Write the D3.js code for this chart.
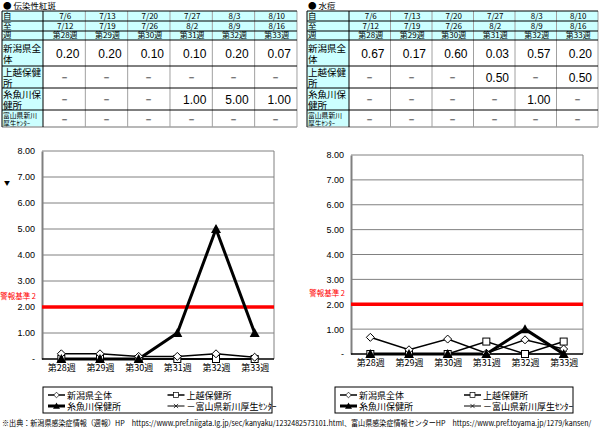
<!DOCTYPE html>
<html><head><meta charset="utf-8">
<script src="https://cdn.jsdelivr.net/npm/d3@7"></script>
<style>body{margin:0;background:#fff}svg{display:block}</style>
</head><body>
<script>
const weeks = ["第28週","第29週","第30週","第31週","第32週","第33週"];
const fromDates = ["7/6","7/13","7/20","7/27","8/3","8/10"];
const toDates = ["7/12","7/19","7/26","8/2","8/9","8/16"];
const seriesNames = ["新潟県全体","上越保健所","糸魚川保健所","富山県新川厚生ｾﾝﾀｰ"];
const rowLabels = [["新潟県全","体"],["上越保健","所"],["糸魚川保","健所"],["富山県新川","厚生ｾﾝﾀｰ"]];
const headerLabels = ["自","至","週"];
// null = "－" in table, plotted as 0
const leftTitle = "伝染性紅斑";
const leftNiigata = [0.20,0.20,0.10,0.10,0.20,0.07];
const leftJoetsu = [null,null,null,null,null,null];
const leftItoigawa = [null,null,null,1.00,5.00,1.00];
const leftToyama = [null,null,null,null,null,null];
const rightTitle = "水痘";
const rightNiigata = [0.67,0.17,0.60,0.03,0.57,0.20];
const rightJoetsu = [null,null,null,0.50,null,0.50];
const rightItoigawa = [null,null,null,null,1.00,null];
const rightToyama = [null,null,null,null,null,null];
const yTicks = [0,1,2,3,4,5,6,7,8];
const alertLevel = 2;
const alertLabel = "警報基準 2";
const footer = "※出典：新潟県感染症情報（週報）HP　https://www.pref.niigata.lg.jp/sec/kanyaku/1232482573101.html、富山県感染症情報センターHP　https://www.pref.toyama.jp/1279/kansen/";

const FONT = "'Noto Sans CJK JP','Liberation Sans',sans-serif";
const svg = d3.select("body").append("svg").attr("width",600).attr("height",430)
  .style("font-family",FONT);

function table(x0, labelW, colW, title, data) {
  const g = svg.append("g");
  g.append("text").attr("x",x0+1).attr("y",8.5).attr("font-size",8.5).text("● "+title);
  const rowsY = [11,21,31,40,66,88,110,127];
  const colX = [x0, x0+labelW];
  for (let i=1;i<=6;i++) colX.push(x0+labelW+colW*i);
  const right = colX[7];
  g.append("rect").attr("x",x0).attr("y",rowsY[0]).attr("width",right-x0).attr("height",rowsY[3]-rowsY[0]).attr("fill","#ccffff");
  g.append("rect").attr("x",x0).attr("y",rowsY[3]).attr("width",labelW).attr("height",rowsY[7]-rowsY[3]).attr("fill","#ccffff");
  const hl = g.append("text").attr("font-size",8.5);
  headerLabels.forEach((t,i)=>hl.append("tspan").attr("x",x0+1).attr("y",rowsY[i+1]-2).text(t));
  for (let j=0;j<6;j++) {
    const cx = (colX[j+1]+colX[j+2])/2+1;
    const ht = g.append("text").attr("font-size",8).attr("text-anchor","middle");
    [fromDates[j],toDates[j],weeks[j]].forEach((t,i)=>ht.append("tspan").attr("x",cx).attr("y",rowsY[i+1]-2).text(t));
  }
  data.forEach((vals,r)=>{
    const y0 = rowsY[r+3], y1 = rowsY[r+4], mid=(y0+y1)/2;
    const small = r===3;
    const fs = small?6.8:9.5;
    const lh = small?8:10.5;
    const ty = mid - lh/2 + fs*0.45;
    const lt = g.append("text").attr("font-size",fs);
    lt.append("tspan").attr("x",x0+1).attr("y",ty).text(rowLabels[r][0]);
    lt.append("tspan").attr("x",x0+1).attr("y",ty+lh).text(rowLabels[r][1]);
    vals.forEach((v,j)=>{
      if (v===null) {
        g.append("text").attr("x",(colX[j+1]+colX[j+2])/2).attr("y",mid+4).attr("font-size",11)
          .attr("text-anchor","middle").attr("font-family","'Liberation Sans',sans-serif").text("－");
      } else {
        g.append("text").attr("x",colX[j+2]-6).attr("y",mid+4.5).attr("font-size",12)
          .attr("text-anchor","end").attr("font-family","'Liberation Sans',sans-serif").text(v.toFixed(2));
      }
    });
  });
  for (let i=2;i<7;i++) g.append("line").attr("x1",colX[i]).attr("x2",colX[i]).attr("y1",rowsY[0]).attr("y2",rowsY[7]).attr("stroke","#a0a0a0").attr("stroke-width",1);
  g.append("line").attr("x1",right).attr("x2",right).attr("y1",rowsY[0]).attr("y2",rowsY[7]).attr("stroke","#a0a0a0");
  rowsY.forEach((y,i)=>{
    g.append("line").attr("x1",x0).attr("x2",right).attr("y1",y).attr("y2",y)
      .attr("stroke", i===7?"#a0a0a0":"#000").attr("stroke-width", i===7?1.5:1);
  });
  [x0, colX[1]].forEach(x=>g.append("line").attr("x1",x).attr("x2",x).attr("y1",rowsY[0]).attr("y2",rowsY[7]).attr("stroke","#000"));
}

function marker(g, type, x, y) {
  if (type==="diamond") {
    g.append("path").attr("d",`M${x},${y-4}L${x+4},${y}L${x},${y+4}L${x-4},${y}Z`).attr("fill","#fff").attr("stroke","#000").attr("stroke-width",1);
  } else if (type==="square") {
    g.append("rect").attr("x",x-3.5).attr("y",y-3.5).attr("width",7).attr("height",7).attr("fill","#fff").attr("stroke","#000").attr("stroke-width",1);
  } else if (type==="triangle") {
    g.append("path").attr("d",`M${x},${y-5}L${x+5},${y+4}L${x-5},${y+4}Z`).attr("fill","#000");
  } else if (type==="x") {
    g.append("path").attr("d",`M${x-3},${y-3}L${x+3},${y+3}M${x+3},${y-3}L${x-3},${y+3}`).attr("stroke","#000").attr("stroke-width",1);
  }
}

const seriesStyle = [
  {type:"diamond", w:1.5},
  {type:"square", w:1.5},
  {type:"triangle", w:3},
  {type:"x", w:1}
];

function chart(left, right, top, bottom, data) {
  const g = svg.append("g");
  const x = d3.scalePoint().domain(weeks).range([left,right]).padding(0.5);
  const y = d3.scaleLinear().domain([0,8]).range([bottom,top]);
  yTicks.forEach(t=>{
    if (t>0) g.append("line").attr("x1",left).attr("x2",right).attr("y1",y(t)).attr("y2",y(t)).attr("stroke","#808080").attr("stroke-width",1);
  });
  const yAxis = d3.axisLeft(y).tickValues(yTicks).tickSize(0).tickPadding(7)
    .tickFormat(d=>d===0?"-":d.toFixed(2));
  const ya = g.append("g").attr("transform",`translate(${left},0)`).call(yAxis);
  ya.select(".domain").attr("stroke","#808080").attr("stroke-width",2);
  ya.selectAll("text").attr("font-size",9).attr("font-family","'Liberation Sans',sans-serif").attr("fill","#000");
  g.append("line").attr("x1",right).attr("x2",right).attr("y1",top).attr("y2",bottom).attr("stroke","#808080");
  const xAxis = d3.axisBottom(x).tickSize(0).tickPadding(6);
  const xa = g.append("g").attr("transform",`translate(0,${bottom})`).call(xAxis);
  xa.select(".domain").attr("d",`M${left},0H${right}`).attr("stroke","#000").attr("stroke-width",1.5);
  xa.selectAll("text").attr("font-size",9).attr("font-family",FONT).attr("fill","#000");
  g.append("line").attr("x1",left).attr("x2",right).attr("y1",y(alertLevel)).attr("y2",y(alertLevel)).attr("stroke","#ff0000").attr("stroke-width",3.5);
  g.append("text").attr("x",left-6).attr("y",y(alertLevel)-8).attr("text-anchor","end").attr("font-size",7.5).attr("fill","#ff0000").text(alertLabel);
  const order = [3,1,0,2];
  order.forEach(si=>{
    const vals = data[si].map(v=>v===null?0:v);
    const st = seriesStyle[si];
    const line = d3.line().x((d,i)=>x(weeks[i])).y(d=>y(d));
    g.append("path").attr("d",line(vals)).attr("fill","none").attr("stroke","#000").attr("stroke-width",st.w);
  });
  order.forEach(si=>{
    const vals = data[si].map(v=>v===null?0:v);
    vals.forEach((v,i)=>marker(g, seriesStyle[si].type, x(weeks[i]), y(v)));
  });
}

function legend(x0, y0, w, h) {
  const g = svg.append("g");
  g.append("rect").attr("x",x0).attr("y",y0).attr("width",w).attr("height",h).attr("fill","#fff").attr("stroke","#000").attr("stroke-width",1);
  const pos = [[x0+5,y0+8],[x0+w/2+10,y0+8],[x0+5,y0+19],[x0+w/2+10,y0+19]];
  seriesNames.forEach((n,i)=>{
    const [px,py]=pos[i];
    const st = seriesStyle[i];
    g.append("line").attr("x1",px).attr("x2",px+17).attr("y1",py).attr("y2",py).attr("stroke","#000").attr("stroke-width",st.w);
    const mg = g.append("g").attr("transform",`translate(${px+8.5},${py}) scale(0.7)`);
    marker(mg, st.type, 0, 0);
    g.append("text").attr("x",px+19).attr("y",py+3.5).attr("font-size",9).text(i===3?"－"+n:n);
  });
}

table(2, 41, 42.33, leftTitle, [leftNiigata,leftJoetsu,leftItoigawa,leftToyama]);
table(307, 42, 41.5, rightTitle, [rightNiigata,rightJoetsu,rightItoigawa,rightToyama]);
chart(42, 274, 151, 359, [leftNiigata,leftJoetsu,leftItoigawa,leftToyama]);
chart(351, 583, 155, 354, [rightNiigata,rightJoetsu,rightItoigawa,rightToyama]);
svg.append("text").attr("x",4).attr("y",185).attr("font-size",6).text("▼");
legend(43, 387, 229, 26);
legend(335, 387, 238, 26);
const fg = svg.append("g");
const ft = fg.append("text").attr("x",0).attr("y",0).attr("font-size",7.5).text(footer);
const natural = ft.node().getComputedTextLength();
const sx = Math.min(1, 590/natural);
fg.attr("transform",`translate(2,426) scale(${sx},1)`);
</script>
</body></html>
